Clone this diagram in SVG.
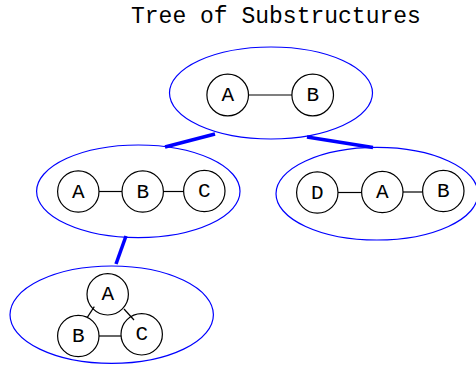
<svg xmlns="http://www.w3.org/2000/svg" width="476" height="366" viewBox="0 0 476 366">
<style>
.sub{fill:none;stroke:#0000ff;stroke-width:1.2}
.n{fill:none;stroke:#000;stroke-width:1.2}
.e{stroke:#000;stroke-width:1.2}
.c{stroke:#0000ff;stroke-width:3.5;stroke-linecap:butt}
.t{font-family:"Liberation Mono","Courier New",monospace;font-size:21px;fill:#000;text-anchor:middle}
.title{font-family:"Liberation Mono","Courier New",monospace;font-size:23px;fill:#000}
</style>
<rect width="476" height="366" fill="#fff"/>
<text class="title" x="131" y="23">Tree of Substructures</text>
<g id="connectors">
<line class="c" x1="215" y1="134" x2="165" y2="147"/>
<line class="c" x1="307" y1="137" x2="373" y2="147.5"/>
<line class="c" x1="126" y1="236" x2="116" y2="264"/>
</g>
<g id="sub1">
<ellipse class="sub" cx="271" cy="93" rx="101.5" ry="46"/>
<line class="e" x1="248.5" y1="95" x2="292" y2="95"/>
<circle class="n" cx="227.7" cy="95" r="20.8"/>
<text class="t" x="227.7" y="101">A</text>
<circle class="n" cx="312.7" cy="95" r="20.8"/>
<text class="t" x="312.7" y="101">B</text>
</g>
<g id="sub2">
<ellipse class="sub" cx="138.3" cy="191.3" rx="101.7" ry="46.3"/>
<line class="e" x1="99" y1="191.5" x2="122" y2="191.5"/>
<line class="e" x1="163.5" y1="191.5" x2="183.5" y2="191.5"/>
<circle class="n" cx="78.3" cy="191.5" r="20.7"/>
<text class="t" x="78.3" y="197.5">A</text>
<circle class="n" cx="142.7" cy="191.5" r="20.7"/>
<text class="t" x="142.7" y="197.5">B</text>
<circle class="n" cx="204.3" cy="191" r="20.7"/>
<text class="t" x="204.3" y="197">C</text>
</g>
<g id="sub3">
<ellipse class="sub" cx="377" cy="193.7" rx="101" ry="46.3"/>
<line class="e" x1="338" y1="192.5" x2="361.5" y2="192.5"/>
<line class="e" x1="403" y1="192" x2="422.5" y2="192"/>
<circle class="n" cx="317.3" cy="192.5" r="20.7"/>
<text class="t" x="317.3" y="198.5">D</text>
<circle class="n" cx="382.3" cy="192" r="20.7"/>
<text class="t" x="382.3" y="198">A</text>
<circle class="n" cx="443.3" cy="191" r="20.7"/>
<text class="t" x="443.3" y="197">B</text>
</g>
<g id="sub4">
<ellipse class="sub" cx="111.7" cy="314.7" rx="101.7" ry="48.7"/>
<line class="e" x1="94.3" y1="306.7" x2="87.3" y2="317.3"/>
<line class="e" x1="124" y1="309" x2="134" y2="320"/>
<line class="e" x1="99" y1="336" x2="121" y2="336"/>
<circle class="n" cx="107.7" cy="294.3" r="20.7"/>
<text class="t" x="107.7" y="300.3">A</text>
<circle class="n" cx="78.3" cy="336" r="20.7"/>
<text class="t" x="78.3" y="342">B</text>
<circle class="n" cx="141.7" cy="334.3" r="20.7"/>
<text class="t" x="141.7" y="340.3">C</text>
</g>
</svg>
